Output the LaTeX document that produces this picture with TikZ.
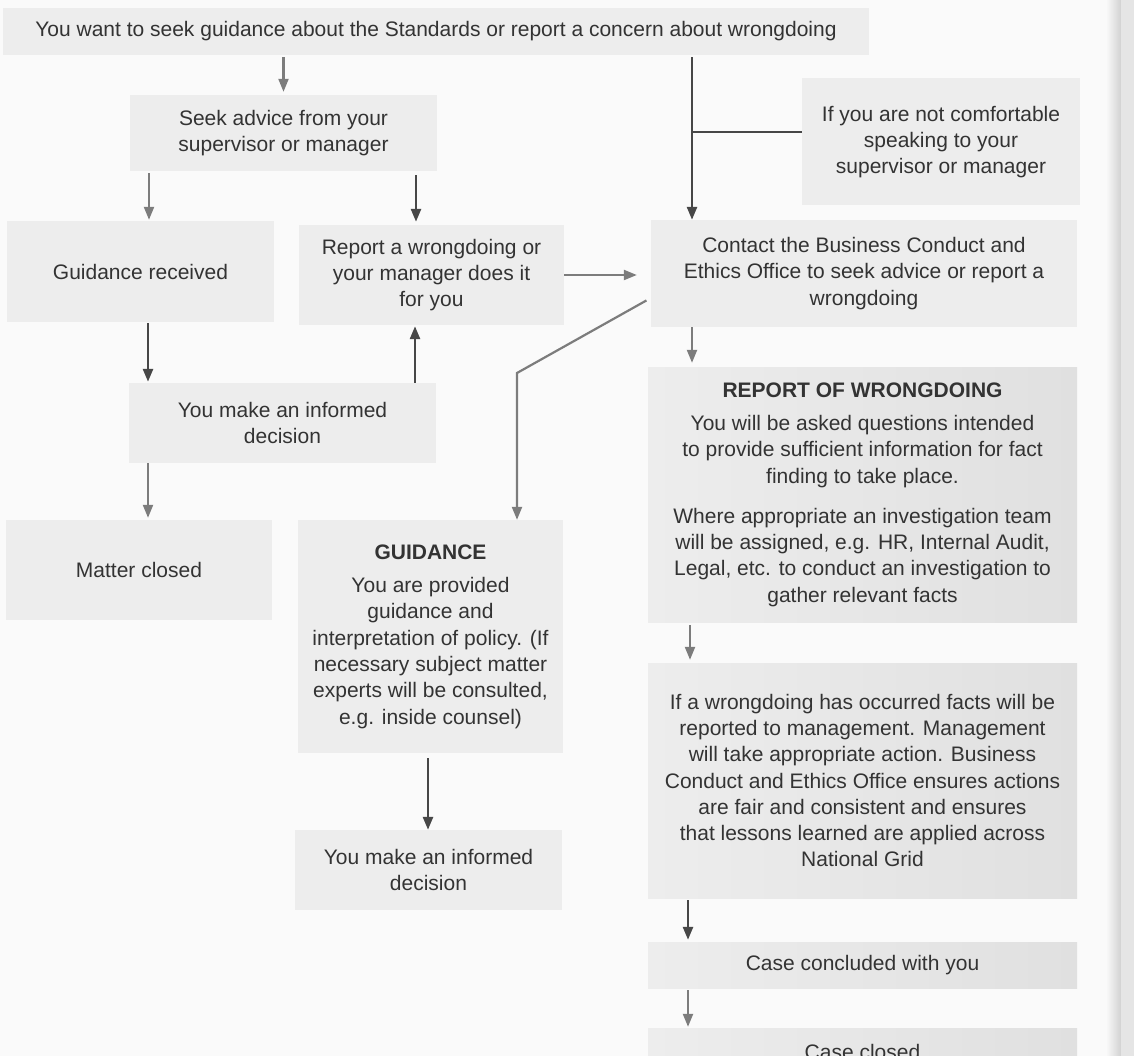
\documentclass[tikz,border=0pt]{standalone}
\usepackage{fontspec}
\setmainfont{Liberation Sans}
\usetikzlibrary{arrows.meta,calc}
\definecolor{boxc}{HTML}{EDEDED}
\definecolor{boxd}{HTML}{E0E0E0}
\definecolor{pagec}{HTML}{FAFAFA}
\definecolor{txtc}{HTML}{333333}
\definecolor{dkc}{HTML}{474747}
\definecolor{gyc}{HTML}{7C7C7C}
\begin{document}
\begin{tikzpicture}[x=1pt,y=-1pt,
  box/.style={fill=boxc, draw=none, inner sep=0pt, align=center, text=txtc,
    font=\fontsize{21}{26.3}\selectfont},
  shbox/.style={box, left color=boxc, middle color=boxc, right color=boxd},
  darr/.style={draw=dkc, line width=2.6pt, -{Triangle[length=13pt,width=10pt]}},
  garr/.style={draw=gyc, line width=2.2pt, -{Triangle[length=13pt,width=10pt]}},
  dline/.style={draw=dkc, line width=2.6pt}]
\clip (0,0) rectangle (1134,1056);
\fill[pagec] (0,0) rectangle (1134,1056);
\shade[left color=pagec, right color=black!18] (1106,0) rectangle (1121,1056);
\fill[black!10] (1121,0) rectangle (1134,1056);

% boxes
\node[box, minimum width=866pt, minimum height=47pt] (top) at (436,31.5)
  {You want to seek guidance about the Standards or report a concern about wrongdoing};
\node[box, minimum width=307pt, minimum height=76pt] (seek) at (283.5,133)
  {Seek advice from your\\supervisor or manager};
\node[box, minimum width=278pt, minimum height=127pt] (ifbox) at (941,142)
  {If you are not comfortable\\speaking to your\\supervisor or manager};
\node[box, minimum width=267pt, minimum height=101pt] (guidrec) at (140.5,271.5)
  {Guidance received};
\node[box, minimum width=265pt, minimum height=100pt] (report) at (431.5,275)
  {Report a wrongdoing or\\your manager does it\\for you};
\node[box, minimum width=426pt, minimum height=107pt] (contact) at (864,273.5)
  {Contact the Business Conduct and\\Ethics Office to seek advice or report a\\wrongdoing};
\node[box, minimum width=307pt, minimum height=80pt] (informed1) at (282.5,423)
  {You make an informed\\decision};
\node[box, minimum width=266pt, minimum height=100pt] (matter) at (139,570)
  {Matter closed};
\node[box, minimum width=265pt, minimum height=233pt] (guidance) at (430.5,636.5)
  {\textbf{GUIDANCE}\\[7pt]You are provided\\guidance and\\interpretation of policy. (If\\necessary subject matter\\experts will be consulted,\\e.g. inside counsel)};
\node[box, minimum width=267pt, minimum height=80pt] (informed2) at (428.5,870)
  {You make an informed\\decision};
\node[shbox, minimum width=429pt, minimum height=255pt] (reportW) at (862.5,494.5)
  {\textbf{REPORT OF WRONGDOING}\\[7pt]You will be asked questions intended\\to provide sufficient information for fact\\finding to take place.\\[14pt]Where appropriate an investigation team\\will be assigned, e.g. HR, Internal Audit,\\Legal, etc. to conduct an investigation to\\gather relevant facts};
\node[shbox, minimum width=429pt, minimum height=235pt] (wrong) at (862.5,780.5)
  {If a wrongdoing has occurred facts will be\\reported to management. Management\\will take appropriate action. Business\\Conduct and Ethics Office ensures actions\\are fair and consistent and ensures\\that lessons learned are applied across\\National Grid};
\node[shbox, minimum width=429pt, minimum height=46pt] (concl) at (862.5,965)
  {Case concluded with you};
\node[shbox, minimum width=429pt, minimum height=48pt] (closed) at (862.5,1052)
  {Case closed};

% connectors
\coordinate (jn) at (692,132);
\draw[garr, shorten <=2pt, shorten >=3pt] (top.south -| seek.north) -- (seek.north);
\draw[darr, shorten <=2pt] (top.south -| jn) -- (contact.north -| jn);
\draw[dline] (ifbox.west |- jn) -- (jn);
\draw[garr, shorten <=2pt, shorten >=1pt] (seek.south -| 149,0) -- (guidrec.north -| 149,0);
\draw[darr, shorten <=4pt, shorten >=3pt] (seek.south -| 416,0) -- (report.north -| 416,0);
\draw[garr, shorten >=14pt] (report.east |- 0,275) -- (contact.west |- 0,275);
\draw[garr, shorten <=5pt] (contact.west |- 0,298) -- (517,373) -- (guidance.north -| 517,0);
\draw[darr, shorten <=1pt, shorten >=1pt] (guidrec.south -| 148,0) -- (informed1.north -| 148,0);
\draw[darr, shorten >=1pt] (informed1.north -| 415,0) -- (report.south -| 415,0);
\draw[garr, shorten >=2pt] (informed1.south -| 148,0) -- (matter.north -| 148,0);
\draw[darr, shorten <=5pt] (guidance.south -| 428,0) -- (informed2.north -| 428,0);
\draw[garr, shorten >=4pt] (contact.south -| 692,0) -- (reportW.north -| 692,0);
\draw[garr, shorten <=3pt, shorten >=3pt] (reportW.south -| 690,0) -- (wrong.north -| 690,0);
\draw[darr, shorten <=2pt, shorten >=2pt] (wrong.south -| 688,0) -- (concl.north -| 688,0);
\draw[garr, shorten <=2pt, shorten >=1pt] (concl.south -| 688,0) -- (closed.north -| 688,0);
\end{tikzpicture}
\end{document}
